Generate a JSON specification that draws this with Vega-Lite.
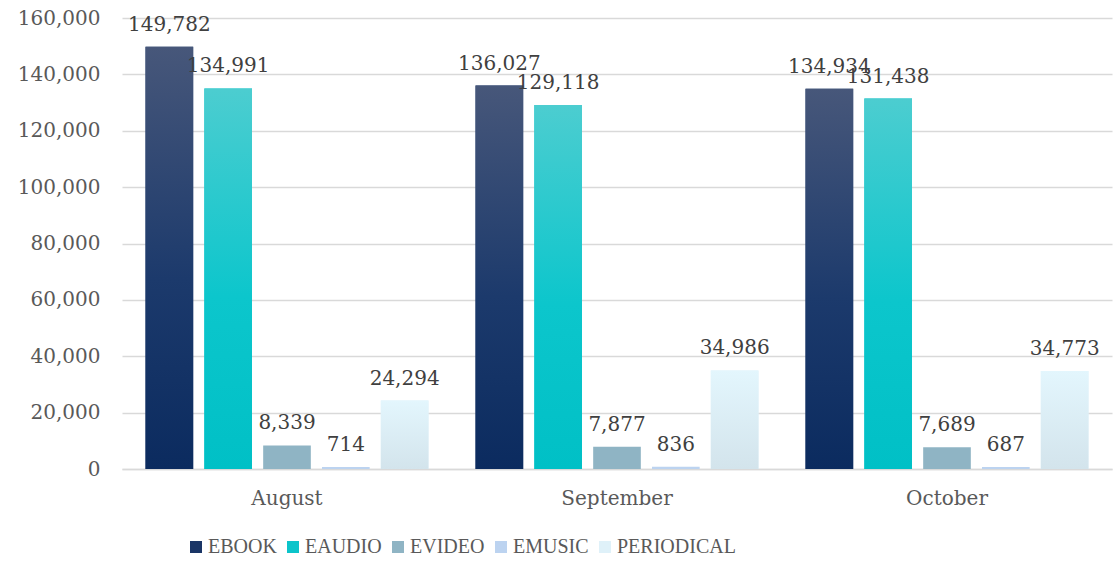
{
  "$schema": "https://vega.github.io/schema/vega-lite/v6.json",
  "width": 990,
  "height": 451,
  "autosize": {"type": "none"},
  "padding": {"left": 122, "top": 18, "right": 3, "bottom": 94},
  "background": "white",
  "config": {"view": {"stroke": null}},
  "data": {
    "values": [
      {"month": "August", "category": "EBOOK", "value": 149782},
      {"month": "August", "category": "EAUDIO", "value": 134991},
      {"month": "August", "category": "EVIDEO", "value": 8339},
      {"month": "August", "category": "EMUSIC", "value": 714},
      {"month": "August", "category": "PERIODICAL", "value": 24294},
      {"month": "September", "category": "EBOOK", "value": 136027},
      {"month": "September", "category": "EAUDIO", "value": 129118},
      {"month": "September", "category": "EVIDEO", "value": 7877},
      {"month": "September", "category": "EMUSIC", "value": 836},
      {"month": "September", "category": "PERIODICAL", "value": 34986},
      {"month": "October", "category": "EBOOK", "value": 134934},
      {"month": "October", "category": "EAUDIO", "value": 131438},
      {"month": "October", "category": "EVIDEO", "value": 7689},
      {"month": "October", "category": "EMUSIC", "value": 687},
      {"month": "October", "category": "PERIODICAL", "value": 34773}
    ]
  },
  "encoding": {
    "x": {
      "field": "month", "type": "nominal",
      "scale": {"domain": ["August", "September", "October"], "paddingInner": 0, "paddingOuter": 0},
      "axis": {
        "title": null, "labelAngle": 0, "ticks": false,
        "domainColor": "#d9d9d9", "domainWidth": 1.5,
        "labelFont": "DejaVu Serif", "labelFontSize": 20, "labelColor": "#595959",
        "labelPadding": 19
      }
    },
    "xOffset": {
      "field": "category", "type": "nominal",
      "scale": {"domain": ["EBOOK", "EAUDIO", "EVIDEO", "EMUSIC", "PERIODICAL"], "paddingInner": 0.19, "paddingOuter": 0.4}
    },
    "y": {
      "field": "value", "type": "quantitative",
      "scale": {"domain": [0, 160000], "nice": false},
      "axis": {
        "title": null, "values": [0, 20000, 40000, 60000, 80000, 100000, 120000, 140000, 160000],
        "format": ",.0f", "ticks": false, "domain": false,
        "gridColor": "#d9d9d9", "gridWidth": 1.5,
        "labelFont": "DejaVu Serif", "labelFontSize": 20, "labelColor": "#595959",
        "labelPadding": 22
      }
    }
  },
  "layer": [
    {
      "mark": {"type": "bar"},
      "encoding": {
        "color": {
          "field": "category", "type": "nominal",
          "scale": {
            "domain": ["EBOOK", "EAUDIO", "EVIDEO", "EMUSIC", "PERIODICAL"],
            "range": ["#1a3566", "#0cc4ca", "#8fb4c4", "#bcd3f0", "#dff1f9"]
          },
          "legend": {
            "title": null, "orient": "none", "direction": "horizontal",
            "legendX": 64, "legendY": 519,
            "symbolType": "square", "symbolSize": 144, "symbolStrokeWidth": 0,
            "labelFont": "Liberation Serif", "labelFontSize": 20, "labelColor": "#595959",
            "labelOffset": 2, "columnPadding": 6
          }
        }
      }
    },
    {
      "transform": [{"filter": "datum.category == 'EBOOK'"}],
      "mark": {"type": "bar", "fill": {"gradient": "linear", "x1": 0, "y1": 0, "x2": 0, "y2": 1,
        "stops": [{"offset": 0, "color": "#47577a"}, {"offset": 0.55, "color": "#1c3a6c"}, {"offset": 1, "color": "#0b2b5f"}]}}
    },
    {
      "transform": [{"filter": "datum.category == 'EAUDIO'"}],
      "mark": {"type": "bar", "fill": {"gradient": "linear", "x1": 0, "y1": 0, "x2": 0, "y2": 1,
        "stops": [{"offset": 0, "color": "#4ccdd0"}, {"offset": 0.55, "color": "#0cc6cc"}, {"offset": 1, "color": "#00c0c6"}]}}
    },
    {
      "transform": [{"filter": "datum.category == 'PERIODICAL'"}],
      "mark": {"type": "bar", "fill": {"gradient": "linear", "x1": 0, "y1": 0, "x2": 0, "y2": 1,
        "stops": [{"offset": 0, "color": "#e3f6fd"}, {"offset": 1, "color": "#d3e4ec"}]}}
    },
    {
      "mark": {"type": "text", "baseline": "alphabetic", "dy": -16, "font": "DejaVu Serif", "fontSize": 20, "color": "#404040"},
      "encoding": {"text": {"field": "value", "type": "quantitative", "format": ","}}
    }
  ]
}
